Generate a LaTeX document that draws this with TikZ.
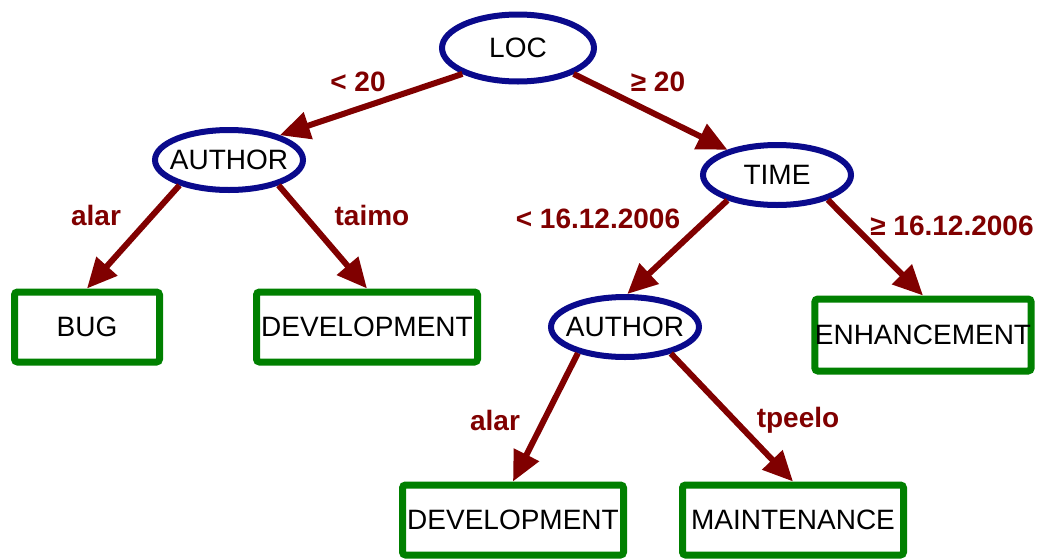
\documentclass[tikz,border=0pt]{standalone}
\usepackage{fontspec}
\setmainfont{Liberation Sans}
\usetikzlibrary{shapes.geometric,arrows.meta}
\definecolor{navyc}{RGB}{10,10,140}
\definecolor{greenc}{RGB}{0,128,0}
\definecolor{redc}{RGB}{128,0,0}
\newcommand{\zw}[1]{\makebox[0pt]{#1}}
\tikzset{
  dec/.style={ellipse, draw=navyc, line width=6pt, fill=white, inner sep=0pt, minimum width=148pt, minimum height=60pt, font=\fontsize{28}{30}\selectfont},
  leaf/.style={rectangle, rounded corners=3pt, draw=greenc, line width=7pt, fill=white, inner sep=0pt, minimum width=221pt, minimum height=70pt, font=\fontsize{28}{30}\selectfont},
  edge/.style={draw=redc, line width=6pt, -{Triangle[length=30pt,width=27pt]}},
  lab/.style={text=redc, font=\fontsize{28}{30}\selectfont\bfseries, inner sep=0pt}
}
\begin{document}
\begin{tikzpicture}[x=1pt,y=-1pt]
\useasboundingbox (0,0) rectangle (1037,560);
% nodes
\node[dec, minimum width=152pt, minimum height=67pt] (loc) at (518,48) {\zw{LOC}};
\node[dec] (a1) at (229,160) {\zw{AUTHOR}};
\node[dec] (time) at (777,175) {\zw{TIME}};
\node[dec] (a2) at (625,327) {\zw{AUTHOR}};
\node[leaf, minimum width=145pt] (bug) at (87,327) {BUG};
\node[leaf] (dev1) at (367,327) {DEVELOPMENT};
\node[leaf, minimum width=216pt, minimum height=72pt] (enh) at (923,335) {ENHANCEMENT};
\node[leaf] (dev2) at (513,520) {DEVELOPMENT};
\node[leaf] (maint) at (793,520) {MAINTENANCE};
% connectors
\draw[edge] (loc.205) -- (a1.26);
\draw[edge] (loc.335) -- (time.153);
\draw[edge] (a1.207) -- (bug.north);
\draw[edge] (a1.333) -- (dev1.north);
\draw[edge] (time.207) -- (a2.86);
\draw[edge] (time.334) -- (enh.north);
\draw[edge] (a2.209) -- (dev2.north);
\draw[edge] (a2.330) -- (maint.north);
% labels
\node[lab] (l1) at (358,82) {< 20};
\node[lab] (l2) at (658,82) {≥ 20};
\node[lab] (l3) at (96,215) {alar};
\node[lab] (l4) at (372,215) {taimo};
\node[lab] (l5) at (598,219) {< 16.12.2006};
\node[lab] (l6) at (952,226) {≥ 16.12.2006};
\node[lab] (l7) at (495,420) {alar};
\node[lab] (l8) at (798,420) {tpeelo};
\end{tikzpicture}
\end{document}
